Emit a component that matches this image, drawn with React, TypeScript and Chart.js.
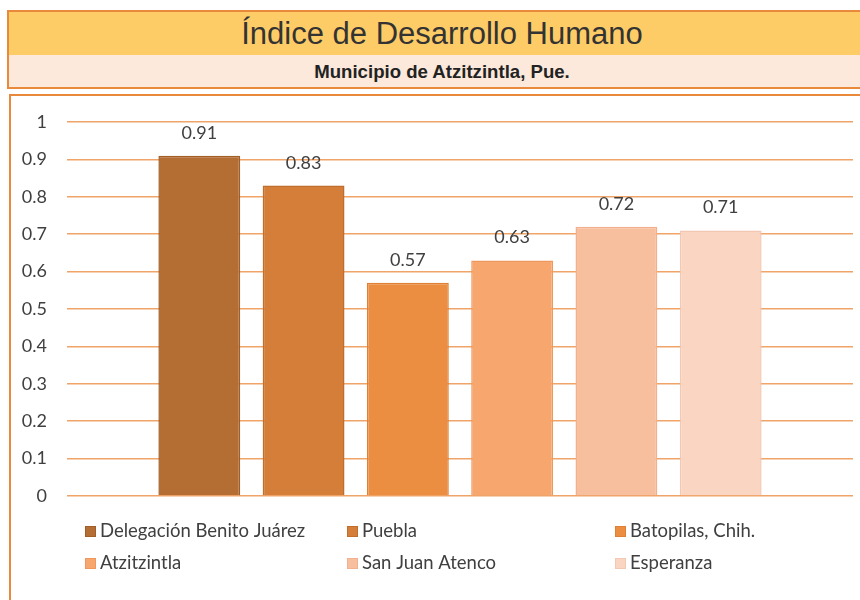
import React, { useEffect, useRef } from "react";
import { Chart, registerables } from "chart.js";

Chart.register(...registerables);

const chartTitle = "Índice de Desarrollo Humano";
const chartSubtitle = "Municipio de Atzitzintla, Pue.";
const categories = [""];
const seriesNames = [
  "Delegación Benito Juárez",
  "Puebla",
  "Batopilas, Chih.",
  "Atzitzintla",
  "San Juan Atenco",
  "Esperanza",
];
const seriesValues = [0.91, 0.83, 0.57, 0.63, 0.72, 0.71];
const seriesColors = ["#B46E33", "#D47E3A", "#EB8E42", "#F7A66D", "#F8BF9E", "#F9D5C2"];
const seriesBorders = ["#A05E28", "#C06E2E", "#DE8036", "#EE985E", "#F2B18E", "#F3C8B2"];
const yTickValues = [0, 0.1, 0.2, 0.3, 0.4, 0.5, 0.6, 0.7, 0.8, 0.9, 1];

const ORANGE = "#E9893B";
const TEXT = "#404040";
const FONT = "Lato, 'DejaVu Sans', sans-serif";

const dataLabelPlugin = {
  id: "dataLabels",
  afterDatasetsDraw(chart: any) {
    const ctx = chart.ctx;
    ctx.save();
    ctx.font = `18px ${FONT}`;
    ctx.fillStyle = TEXT;
    ctx.textAlign = "center";
    ctx.textBaseline = "alphabetic";
    chart.data.datasets.forEach((ds: any, i: number) => {
      const meta = chart.getDatasetMeta(i);
      meta.data.forEach((el: any, j: number) => {
        const v = ds.data[j];
        ctx.fillText(Number(v).toFixed(2), el.x, el.y - 17);
      });
    });
    ctx.restore();
  },
};

const legendPlugin = {
  id: "gridLegend",
  afterDraw(chart: any) {
    const ctx = chart.ctx;
    const colX = [85, 347, 615];
    const rowY = [531, 563];
    ctx.save();
    ctx.font = `18.5px ${FONT}`;
    ctx.textBaseline = "middle";
    ctx.textAlign = "left";
    chart.data.datasets.forEach((ds: any, i: number) => {
      const x = colX[i % 3];
      const y = rowY[Math.floor(i / 3)];
      ctx.fillStyle = ds.backgroundColor;
      ctx.fillRect(x, y - 5, 11, 11);
      ctx.strokeStyle = ds.borderColor;
      ctx.lineWidth = 1;
      ctx.strokeRect(x + 0.5, y - 4.5, 10, 10);
      ctx.fillStyle = TEXT;
      ctx.fillText(ds.label, x + 15, y);
    });
    ctx.restore();
  },
};

export default function App() {
  const canvasRef = useRef<HTMLCanvasElement | null>(null);

  useEffect(() => {
    if (!canvasRef.current) return;
    const chart = new Chart(canvasRef.current, {
      type: "bar",
      data: {
        labels: categories,
        datasets: seriesNames.map((name, i) => ({
          label: name,
          data: [seriesValues[i]],
          backgroundColor: seriesColors[i],
          borderColor: seriesBorders[i],
          borderWidth: 1.5,
          categoryPercentage: 0.796,
          barPercentage: 0.785,
        })),
      },
      options: {
        responsive: false,
        animation: false,
        layout: { padding: { left: 0, right: 7, top: 122, bottom: 104 } },
        plugins: {
          legend: { display: false },
          title: { display: false },
          tooltip: { enabled: false },
        },
        scales: {
          x: { display: false },
          y: {
            min: 0,
            max: 1,
            afterFit: (scale: any) => {
              scale.width = 67;
            },
            afterBuildTicks: (scale: any) => {
              scale.ticks = yTickValues.map((v) => ({ value: v }));
            },
            ticks: {
              color: TEXT,
              font: { family: FONT, size: 18 },
              padding: 20,
              callback: (v: any) => String(Math.round(Number(v) * 10) / 10),
            },
            grid: { color: "#F0A468", lineWidth: 1.5, drawTicks: false },
            border: { display: false },
          },
        },
      },
      plugins: [dataLabelPlugin, legendPlugin],
    });
    return () => chart.destroy();
  }, []);

  return (
    <div style={{ position: "absolute", left: 0, top: 0, width: 860, height: 600, overflow: "hidden", background: "#fff" }}>
      <div
        style={{
          position: "absolute",
          left: 7,
          top: 10,
          width: 880,
          height: 43,
          background: "#FECC66",
          border: `2px solid ${ORANGE}`,
          fontFamily: "'Liberation Sans', Arial, sans-serif",
          fontSize: 31,
          color: "#333",
          lineHeight: "43px",
        }}
      >
        <div style={{ position: "absolute", left: 0, width: 866, textAlign: "center", top: 0 }}>{chartTitle}</div>
      </div>
      <div
        style={{
          position: "absolute",
          left: 7,
          top: 55,
          width: 880,
          height: 32,
          background: "#FCE9DB",
          borderLeft: `2px solid ${ORANGE}`,
          borderBottom: `2px solid ${ORANGE}`,
          fontFamily: "'Liberation Sans', Arial, sans-serif",
          fontWeight: "bold",
          fontSize: 18.6,
          color: "#222",
          lineHeight: "34px",
        }}
      >
        <div style={{ position: "absolute", left: 0, width: 866, textAlign: "center", top: 0 }}>{chartSubtitle}</div>
      </div>
      <div
        style={{
          position: "absolute",
          left: 9,
          top: 94,
          width: 880,
          height: 540,
          borderLeft: `2px solid ${ORANGE}`,
          borderTop: `2px solid ${ORANGE}`,
        }}
      />
      <canvas ref={canvasRef} width={860} height={600} style={{ position: "absolute", left: 0, top: 0, width: 860, height: 600 }} />
    </div>
  );
}
